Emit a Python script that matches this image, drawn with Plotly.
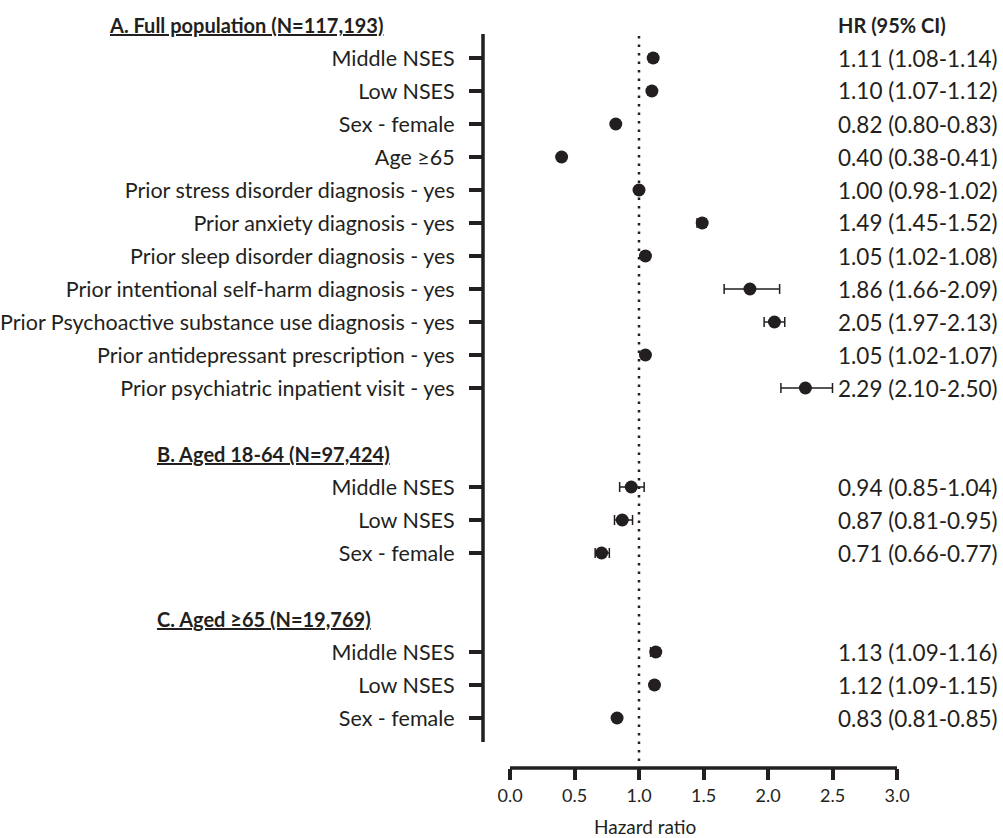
import plotly.graph_objects as go

# ---- data ----
section_titles = ["A. Full population (N=117,193)", "B. Aged 18-64 (N=97,424)", "C. Aged \u226565 (N=19,769)"]

labels_a = ["Middle NSES", "Low NSES", "Sex - female", "Age \u226565",
            "Prior stress disorder diagnosis - yes", "Prior anxiety diagnosis - yes",
            "Prior sleep disorder diagnosis - yes", "Prior intentional self-harm diagnosis - yes",
            "Prior Psychoactive substance use diagnosis - yes", "Prior antidepressant prescription - yes",
            "Prior psychiatric inpatient visit - yes"]
hr_a = [1.11, 1.10, 0.82, 0.40, 1.00, 1.49, 1.05, 1.86, 2.05, 1.05, 2.29]
lo_a = [1.08, 1.07, 0.80, 0.38, 0.98, 1.45, 1.02, 1.66, 1.97, 1.02, 2.10]
hi_a = [1.14, 1.12, 0.83, 0.41, 1.02, 1.52, 1.08, 2.09, 2.13, 1.07, 2.50]

labels_b = ["Middle NSES", "Low NSES", "Sex - female"]
hr_b = [0.94, 0.87, 0.71]
lo_b = [0.85, 0.81, 0.66]
hi_b = [1.04, 0.95, 0.77]

labels_c = ["Middle NSES", "Low NSES", "Sex - female"]
hr_c = [1.13, 1.12, 0.83]
lo_c = [1.09, 1.09, 0.81]
hi_c = [1.16, 1.15, 0.85]

x_ticks = [0.0, 0.5, 1.0, 1.5, 2.0, 2.5, 3.0]
x_title = "Hazard ratio"
ci_header = "HR (95% CI)"

# ---- layout of rows ----
rows_a = list(range(0, 11))
rows_b = list(range(13, 16))
rows_c = list(range(18, 21))
header_rows = [-1, 12, 17]

labels = labels_a + labels_b + labels_c
hr = hr_a + hr_b + hr_c
lo = lo_a + lo_b + lo_c
hi = hi_a + hi_b + hi_c
rows = rows_a + rows_b + rows_c

INK = "#231f20"
FONT = "Lato"

# pixel geometry helpers
W, H = 1003, 838
L, R, T, B = 483, 1003 - 897, 34, 838 - 768
pw, ph = W - L - R, H - T - B
row_px = 33.0
y0 = -(58 - T) / row_px
y1 = y0 + ph / row_px
x0 = -(510 - L) / 129.0


def px_to_paper_x(px):
    return (px - L) / pw


def px_to_paper_y(py):
    return (H - B - py) / ph


def row_to_paper_y(r):
    return px_to_paper_y(58 + r * row_px)


fig = go.Figure()
fig.add_trace(go.Scatter(
    x=hr, y=rows, mode="markers",
    marker=dict(color=INK, size=13),
    error_x=dict(type="data", symmetric=False,
                 array=[h - m for h, m in zip(hi, hr)],
                 arrayminus=[m - l for m, l in zip(hr, lo)],
                 color=INK, thickness=1.5, width=5),
    showlegend=False, hoverinfo="x+y",
))

# reference line at HR = 1
fig.add_shape(type="line", xref="x", yref="y", x0=1, x1=1,
              y0=y0 + 2 / row_px, y1=y0 + (761 - T) / row_px,
              line=dict(color=INK, width=2.5, dash="2.5px,6px"))
# y axis line
fig.add_shape(type="line", xref="paper", yref="y", x0=0, x1=0,
              y0=y0, y1=y0 + (742 - T) / row_px,
              line=dict(color=INK, width=3.5))
# x axis line
fig.add_shape(type="line", xref="x", yref="paper", x0=0, x1=3, y0=0, y1=0,
              line=dict(color=INK, width=3.5))

annotations = []
for title, r, lx in zip(section_titles, header_rows, [107, 155, 155]):
    annotations.append(dict(text="<b><u>" + title + "</u></b>", x=px_to_paper_x(lx), xref="paper",
                            y=row_to_paper_y(r), yref="paper", xanchor="left", yanchor="middle",
                            showarrow=False, font=dict(family=FONT, size=20, color=INK)))
annotations.append(dict(text="<b>" + ci_header + "</b>", x=px_to_paper_x(836), xref="paper",
                        y=row_to_paper_y(-1), yref="paper", xanchor="left", yanchor="middle",
                        showarrow=False, font=dict(family=FONT, size=20, color=INK)))
for h, l, u, r in zip(hr, lo, hi, rows):
    annotations.append(dict(text=f"{h:.2f} ({l:.2f}-{u:.2f})", x=px_to_paper_x(836), xref="paper",
                            y=row_to_paper_y(r), yref="paper", xanchor="left", yanchor="middle",
                            showarrow=False, font=dict(family=FONT, size=22.5, color=INK)))
annotations.append(dict(text=x_title, x=px_to_paper_x(645), xref="paper",
                        y=px_to_paper_y(826), yref="paper", xanchor="center", yanchor="middle",
                        showarrow=False, font=dict(family=FONT, size=19, color=INK)))

fig.update_layout(
    width=W, height=H,
    margin=dict(l=L, r=R, t=T, b=B, pad=0, autoexpand=False),
    paper_bgcolor="white", plot_bgcolor="white",
    font=dict(family=FONT, color=INK),
    annotations=annotations,
    xaxis=dict(range=[x0, 3.0], tickvals=x_ticks, ticktext=[f"{v:.1f}" for v in x_ticks],
               ticks="outside", ticklen=11, tickwidth=3.5, tickcolor=INK,
               showline=False, showgrid=False, zeroline=False, automargin=False,
               tickfont=dict(family=FONT, size=18, color=INK)),
    yaxis=dict(range=[y1, y0], tickvals=rows, ticktext=labels,
               ticks="outside", ticklen=13, tickwidth=3.5, tickcolor=INK,
               ticklabelstandoff=10, automargin=False,
               showline=False, showgrid=False, zeroline=False,
               tickfont=dict(family=FONT, size=21.5, color=INK)),
)

fig.write_html("out.html", post_script="document.body.style.margin='0';",
               config={"displayModeBar": False})
